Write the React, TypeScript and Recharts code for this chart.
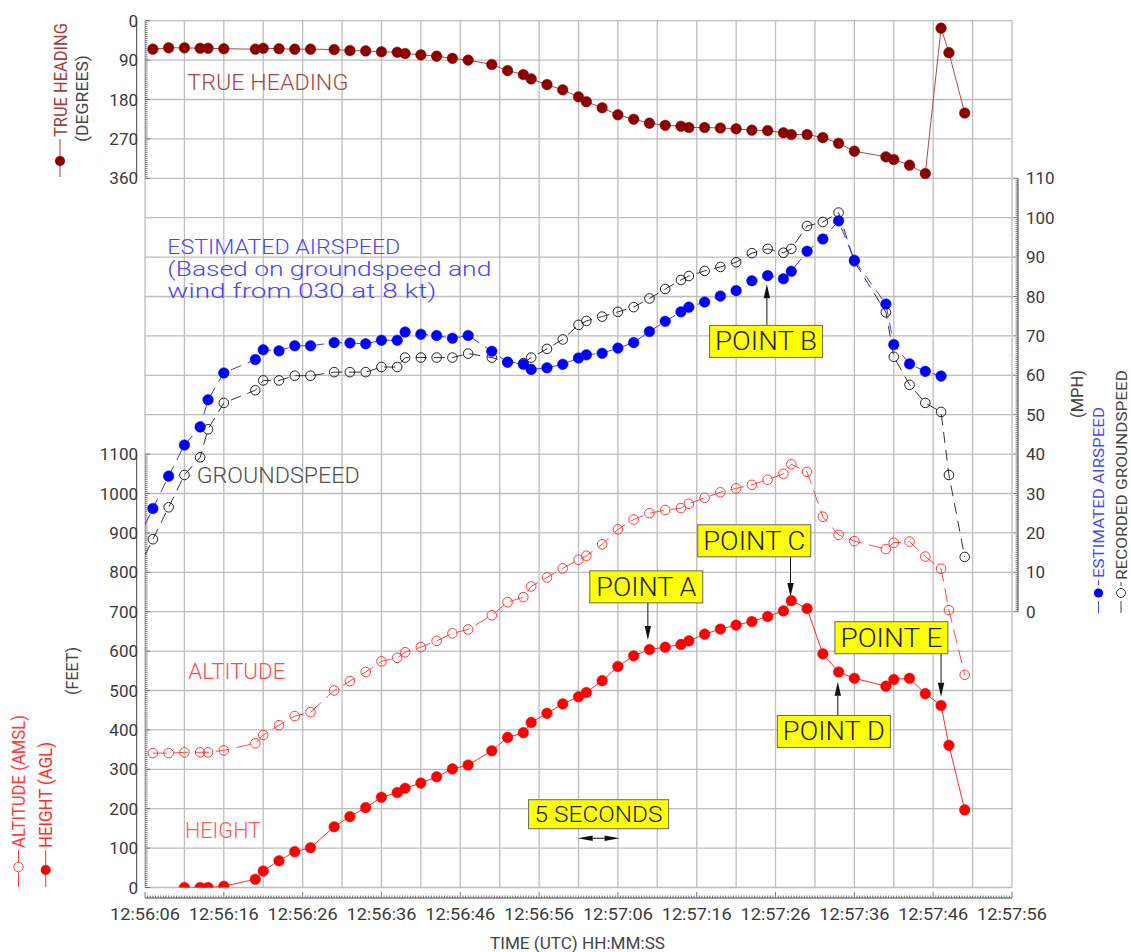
import React from "react";
import {
  ComposedChart,
  Line,
  XAxis,
  YAxis,
  CartesianGrid,
  ReferenceLine,
  ReferenceDot,
  Customized,
} from "recharts";

const FONT = "Roboto, 'Liberation Sans', Arial, sans-serif";

// ---------- axis labels ----------
const xTickLabels = [
  "12:56:06", "12:56:16", "12:56:26", "12:56:36", "12:56:46", "12:56:56",
  "12:57:06", "12:57:16", "12:57:26", "12:57:36", "12:57:46", "12:57:56",
];
const headingTickLabels = [0, 90, 180, 270, 360];
const feetTickLabels = [0, 100, 200, 300, 400, 500, 600, 700, 800, 900, 1000, 1100];
const mphTickLabels = [0, 10, 20, 30, 40, 50, 60, 70, 80, 90, 100, 110];

// ---------- series (time = seconds after 12:56:06) ----------
const headingTimes = [1, 3, 5, 7, 8, 10, 14, 15, 17, 19, 21, 24, 26, 28, 30, 32, 33, 35, 37, 39, 41, 44, 46, 48, 49, 51, 53, 55, 56, 58, 60, 62, 64, 66, 68, 69, 71, 73, 75, 77, 79, 81, 82, 84, 86, 88, 90, 94, 95, 97, 99, 101, 102, 104];
const headingDeg = [65, 62, 62, 63, 63, 64, 65, 63, 64, 65, 65, 66, 68, 69, 71, 72, 75, 78, 81, 86, 90, 100, 114, 123, 133, 146, 158, 174, 185, 199, 215, 225, 234, 239, 241, 244, 244, 245, 247, 250, 251, 256, 260, 260, 267, 280, 298, 311, 317, 330, 349, 17, 73, 211];

const airspeedTimes = [-1, 1, 3, 5, 7, 8, 10, 14, 15, 17, 19, 21, 24, 26, 28, 30, 32, 33, 35, 37, 39, 41, 44, 46, 48, 49, 51, 53, 55, 56, 58, 60, 62, 64, 66, 68, 69, 71, 73, 75, 77, 79, 81, 82, 84, 86, 88, 90, 94, 95, 97, 99, 101];
const airspeedMph = [18, 26.2, 34.4, 42.3, 46.9, 53.8, 60.6, 64, 66.5, 66.2, 67.5, 67.5, 68.3, 68.2, 68, 68.9, 68.9, 71, 70.4, 70.1, 69.4, 70.1, 66.1, 63.3, 62.8, 61.5, 61.9, 62.8, 64.4, 65.2, 65.6, 66.9, 68.3, 71.1, 73.7, 76.1, 77.3, 78.6, 80.1, 81.5, 84, 85.3, 84.5, 86.4, 91.5, 94.6, 99.2, 89.2, 78.1, 67.8, 62.9, 61, 59.8];

const groundTimes = [-1, 1, 3, 5, 7, 8, 10, 14, 15, 17, 19, 21, 24, 26, 28, 30, 32, 33, 35, 37, 39, 41, 44, 46, 48, 49, 51, 53, 55, 56, 58, 60, 62, 64, 66, 68, 69, 71, 73, 75, 77, 79, 81, 82, 84, 86, 88, 90, 94, 95, 97, 99, 101, 102, 104];
const groundMph = [10.3, 18.4, 26.5, 34.7, 39.2, 46.3, 53, 56.2, 58.7, 58.7, 59.9, 59.9, 60.8, 60.8, 60.8, 62.1, 62.1, 64.5, 64.5, 64.5, 64.5, 65.5, 64.5, 63.4, 63.1, 64.5, 66.7, 69.1, 72.8, 73.8, 74.9, 76.1, 77.3, 79.5, 81.9, 84.2, 85.2, 86.5, 87.5, 88.7, 91, 92.1, 91.1, 92.1, 97.9, 98.9, 101.3, 88.9, 76, 64.7, 57.6, 53, 50.7, 34.7, 13.9];

const altitudeTimes = [1, 3, 5, 7, 8, 10, 14, 15, 17, 19, 21, 24, 26, 28, 30, 32, 33, 35, 37, 39, 41, 44, 46, 48, 49, 51, 53, 55, 56, 58, 60, 62, 64, 66, 68, 69, 71, 73, 75, 77, 79, 81, 82, 84, 86, 88, 90, 94, 95, 97, 99, 101, 102, 104];
const altitudeFt = [341, 341, 343, 343, 343, 348, 366, 387, 412, 435, 445, 500, 524, 547, 574, 583, 597, 610, 626, 645, 655, 691, 724, 737, 764, 787, 810, 832, 842, 871, 909, 934, 950, 958, 963, 974, 989, 1003, 1013, 1022, 1035, 1050, 1074, 1055, 941, 895, 879, 859, 875, 878, 840, 809, 704, 540];

const heightTimes = [5, 7, 8, 10, 14, 15, 17, 19, 21, 24, 26, 28, 30, 32, 33, 35, 37, 39, 41, 44, 46, 48, 49, 51, 53, 55, 56, 58, 60, 62, 64, 66, 68, 69, 71, 73, 75, 77, 79, 81, 82, 84, 86, 88, 90, 94, 95, 97, 99, 101, 102, 104];
const heightFt = [0, 0, 0, 3, 21, 42, 68, 91, 101, 154, 180, 203, 229, 241, 252, 265, 281, 301, 311, 347, 381, 393, 419, 442, 466, 484, 495, 525, 561, 588, 604, 610, 617, 626, 643, 656, 666, 675, 688, 702, 728, 708, 593, 547, 531, 511, 528, 531, 492, 462, 361, 197];

const toRows = (ts: number[], vs: number[]) => ts.map((t, i) => ({ t, v: vs[i] }));
const headingData = toRows(headingTimes, headingDeg);
const airspeedData = toRows(airspeedTimes, airspeedMph);
const groundData = toRows(groundTimes, groundMph);
const altitudeData = toRows(altitudeTimes, altitudeFt);
const heightData = toRows(heightTimes, heightFt);

// ---------- scale set-up (three stacked panels share one plot) ----------
const T_MAX = 110;
const FT_MAX = 2200; // feet axis spans full plot height
const HD_MAX = 1980; // heading axis (reversed) spans full plot height
const MPH_DOMAIN: [number, number] = [-70, 150];
const headingToFt = (h: number) => FT_MAX - (h * FT_MAX) / HD_MAX;

// layout
const W = 1131;
const H = 952;
const M_TOP = 20.7;
const GAP_X = 10.5;
const XAXIS_H = 54;
const GAP_L = 8.3;
const YAXIS_L = 136.7;
const GAP_R = 6;
const YAXIS_R = 113;
const SEC_PX = (W - GAP_L - YAXIS_L - GAP_R - YAXIS_R) / T_MAX;

// ticks
const xTicks: number[] = [];
for (let i = 0; i <= T_MAX * 3; i++) xTicks.push(i / 3);
const leftTicks: number[] = [];
for (let v = 0; v <= feetTickLabels[feetTickLabels.length - 1]; v += 5) leftTicks.push(v);
for (let v = headingToFt(360); v <= FT_MAX + 0.001; v += 5) leftTicks.push(Math.round(v));
const rightTicks: number[] = [];
for (let i = 0; i <= mphTickLabels[mphTickLabels.length - 1] * 2; i++) rightTicks.push(i / 2);
const gridT: number[] = [];
for (let t = 0; t <= T_MAX; t += 5) gridT.push(t);
const gridFt: number[] = [];
for (let f = 0; f <= FT_MAX; f += 100) gridFt.push(f);

const TICK_COLOR = "#3a3a3a";

const BottomTick = (p: any) => {
  const { x, y, payload } = p;
  const k = Math.round(payload.value * 3);
  const major = k % 30 === 0;
  return (
    <g>
      <line x1={x} x2={x} y1={y} y2={y - (major ? 6 : 2.5)} stroke="#555" strokeWidth={0.8} />
      {major && (
        <text x={x} y={y + 22} textAnchor="middle" fontSize={17} fontFamily={FONT} fill={TICK_COLOR} textLength={70} lengthAdjust="spacingAndGlyphs">
          {xTickLabels[k / 30]}
        </text>
      )}
    </g>
  );
};

const LeftTick = (p: any) => {
  const { x, y, payload } = p;
  const v = payload.value;
  let label: string | null = null;
  if (v >= headingToFt(360) - 0.01) {
    const h = headingTickLabels.find((hh) => Math.abs(headingToFt(hh) - v) < 0.01);
    if (h !== undefined) label = String(h);
  } else if (feetTickLabels.includes(v)) {
    label = String(v);
  }
  const major = label !== null;
  return (
    <g>
      <line x1={x} x2={x + (major ? 5 : 2.5)} y1={y} y2={y} stroke="#555" strokeWidth={0.8} />
      {major && (
        <text x={x - 7} y={y} dy="0.36em" textAnchor="end" fontSize={17} fontFamily={FONT} fill={TICK_COLOR}>
          {label}
        </text>
      )}
    </g>
  );
};

const RightTick = (p: any) => {
  const { x, y, payload } = p;
  const v = payload.value;
  const major = mphTickLabels.includes(v);
  return (
    <g>
      <line x1={x} x2={x - (major ? 5 : 2.5)} y1={y} y2={y} stroke="#555" strokeWidth={0.8} />
      {major && (
        <text x={x + 8} y={y} dy="0.36em" textAnchor="start" fontSize={17} fontFamily={FONT} fill={TICK_COLOR}>
          {v}
        </text>
      )}
    </g>
  );
};

// ---------- dots ----------
const filledDot = (color: string, r: number) => (p: any) => {
  if (p.payload && p.payload.t < 0) return <g key={`d${p.index}`} />;
  return <circle key={`d${p.index}`} cx={p.cx} cy={p.cy} r={r} fill={color} stroke={color} strokeWidth={0.5} />;
};
const openDot = (color: string, r: number) => (p: any) => {
  if (p.payload && p.payload.t < 0) return <g key={`d${p.index}`} />;
  return <circle key={`d${p.index}`} cx={p.cx} cy={p.cy} r={r} fill="none" stroke={color} strokeWidth={1} />;
};

// ---------- annotations ----------
type TextNote = { text: string; t: number; v: number; axis: string; color: string; size: number; len: number };
const plotTexts: TextNote[] = [
  { text: "TRUE HEADING", t: 5.37, v: 158, axis: "hd", color: "#b04444", size: 22, len: 161 },
  { text: "ESTIMATED AIRSPEED", t: 2.83, v: 90.8, axis: "mph", color: "#4646ff", size: 19.5, len: 233 },
  { text: "(Based on groundspeed and", t: 2.83, v: 85.1, axis: "mph", color: "#4646ff", size: 19.5, len: 324 },
  { text: "wind from 030 at 8 kt)", t: 2.83, v: 79.6, axis: "mph", color: "#4646ff", size: 19.5, len: 269 },
  { text: "GROUNDSPEED", t: 6.56, v: 32.6, axis: "mph", color: "#505050", size: 22, len: 163 },
  { text: "ALTITUDE", t: 5.5, v: 528, axis: "ft", color: "#ff4c4c", size: 22, len: 97 },
  { text: "HEIGHT", t: 5.08, v: 126, axis: "ft", color: "#ff5a5a", size: 22, len: 76 },
];

type BoxNote = { text: string; t: number; v: number; axis: string; w: number; h: number; size: number; len: number };
const boxes: BoxNote[] = [
  { text: "POINT A", t: 63.6, v: 763, axis: "ft", w: 113, h: 32, size: 25, len: 100 },
  { text: "POINT B", t: 78.8, v: 68.6, axis: "mph", w: 113, h: 32, size: 25, len: 102 },
  { text: "POINT C", t: 77.3, v: 880, axis: "ft", w: 113, h: 32, size: 25, len: 102 },
  { text: "POINT D", t: 87.4, v: 396, axis: "ft", w: 113, h: 32, size: 25, len: 102 },
  { text: "POINT E", t: 94.7, v: 634, axis: "ft", w: 113, h: 32, size: 25, len: 102 },
  { text: "5 SECONDS", t: 57.55, v: 186, axis: "ft", w: 140, h: 29, size: 22, len: 128 },
];

type ArrowNote = { t1: number; v1: number; t2: number; v2: number; axis: string; both?: boolean };
const arrows: ArrowNote[] = [
  { t1: 63.8, v1: 723, t2: 63.8, v2: 628, axis: "ft" },
  { t1: 78.9, v1: 72.7, t2: 78.9, v2: 83.1, axis: "mph" },
  { t1: 81.9, v1: 840, t2: 81.9, v2: 737, axis: "ft" },
  { t1: 87.9, v1: 436, t2: 87.9, v2: 522, axis: "ft" },
  { t1: 101.0, v1: 594, t2: 101.0, v2: 484, axis: "ft" },
  { t1: 54.9, v1: 125, t2: 60.2, v2: 125, axis: "ft", both: true },
];

const head = (x: number, y: number, ux: number, uy: number, hl: number, hw: number) => {
  const bx = x - ux * hl;
  const by = y - uy * hl;
  return `${x},${y} ${bx - uy * hw},${by + ux * hw} ${bx + uy * hw},${by - ux * hw}`;
};

const arrowShape = (both: boolean) => (p: any) => {
  const { x1, y1, x2, y2 } = p;
  const dx = x2 - x1;
  const dy = y2 - y1;
  const L = Math.hypot(dx, dy) || 1;
  const ux = dx / L;
  const uy = dy / L;
  const hl = both ? 15 : 14;
  const hw = both ? 2.8 : 3.2;
  const sx = both ? x1 + ux * hl : x1;
  const sy = both ? y1 + uy * hl : y1;
  return (
    <g>
      <line x1={sx} y1={sy} x2={x2 - ux * hl} y2={y2 - uy * hl} stroke="#111" strokeWidth={1} />
      <polygon points={head(x2, y2, ux, uy, hl, hw)} fill="#111" />
      {both && <polygon points={head(x1, y1, -ux, -uy, hl, hw)} fill="#111" />}
    </g>
  );
};

// ---------- outer legends & titles ----------
const rotText = (x: number, y: number, text: string, color: string, size: number, len: number, anchor: string = "start") => (
  <text
    transform={`translate(${x},${y}) rotate(-90)`}
    textAnchor={anchor}
    fontSize={size}
    fontFamily={FONT}
    fill={color}
    textLength={len}
    lengthAdjust="spacingAndGlyphs"
  >
    {text}
  </text>
);

const OuterTexts = () => (
  <g>
    {/* heading legend */}
    {rotText(67, 137, "TRUE HEADING", "#a83c3c", 18, 114)}
    <line x1={60} x2={60} y1={139} y2={177} stroke="#a83c3c" strokeWidth={1} />
    <circle cx={60} cy={161} r={5} fill="#8b0000" />
    {rotText(88, 98.5, "(DEGREES)", "#444", 17, 87, "middle")}
    {/* feet */}
    {rotText(78, 671, "(FEET)", "#444", 17, 48, "middle")}
    {/* altitude legend */}
    {rotText(25, 848, "ALTITUDE (AMSL)", "#ff4040", 18, 133)}
    <line x1={18.5} x2={18.5} y1={850} y2={862} stroke="#ff4040" strokeWidth={1} />
    <circle cx={18.5} cy={867} r={4.7} fill="none" stroke="#ff4040" strokeWidth={1} />
    <line x1={18.5} x2={18.5} y1={872} y2={887} stroke="#ff4040" strokeWidth={1} />
    {/* height legend */}
    {rotText(52, 848, "HEIGHT (AGL)", "#ff2a2a", 18, 106)}
    <line x1={45.7} x2={45.7} y1={850} y2={887} stroke="#ff2a2a" strokeWidth={1} />
    <circle cx={45.7} cy={870} r={5} fill="#ff0000" />
    {/* mph */}
    {rotText(1083, 394, "(MPH)", "#444", 17, 48, "middle")}
    {rotText(1104, 578, "ESTIMATED AIRSPEED", "#4646ff", 15, 171)}
    <line x1={1098.5} x2={1098.5} y1={580} y2={585} stroke="#4646ff" strokeWidth={1} />
    <circle cx={1098.5} cy={593} r={4.6} fill="#0000ff" />
    <line x1={1098.5} x2={1098.5} y1={601} y2={613} stroke="#4646ff" strokeWidth={1} />
    {rotText(1127, 580, "RECORDED GROUNDSPEED", "#444", 15, 210)}
    <line x1={1121} x2={1121} y1={582} y2={586} stroke="#444" strokeWidth={1} />
    <circle cx={1121} cy={593} r={4.5} fill="none" stroke="#333" strokeWidth={1} />
    <line x1={1121} x2={1121} y1={601} y2={613} stroke="#444" strokeWidth={1} />
    {/* time title */}
    <text x={490} y={949} fontSize={16} fontFamily={FONT} fill="#444" textLength={175} lengthAdjust="spacingAndGlyphs">
      TIME (UTC) HH:MM:SS
    </text>
  </g>
);

export default function App() {
  const axL = -GAP_L / SEC_PX;
  const axR = T_MAX + GAP_R / SEC_PX;
  return (
    <div style={{ position: "absolute", left: 0, top: 0, width: W, height: H, background: "#fff" }}>
      <ComposedChart width={W} height={H} margin={{ top: M_TOP, right: 0, bottom: 0, left: 0 }}>
        <XAxis xAxisId="gap" type="number" dataKey="t" domain={[0, T_MAX]} height={GAP_X} tick={false} axisLine={false} tickLine={false} allowDataOverflow />
        <XAxis
          xAxisId="t"
          type="number"
          dataKey="t"
          domain={[0, T_MAX]}
          height={XAXIS_H}
          ticks={xTicks}
          interval={0}
          tick={BottomTick}
          tickLine={false}
          tickSize={0}
          tickMargin={0}
          axisLine={{ stroke: "#444", strokeWidth: 1 }}
          allowDataOverflow
        />
        <YAxis yAxisId="gapL" orientation="left" width={GAP_L} domain={[0, FT_MAX]} tick={false} axisLine={false} tickLine={false} />
        <YAxis
          yAxisId="ft"
          orientation="left"
          width={YAXIS_L}
          type="number"
          domain={[0, FT_MAX]}
          ticks={leftTicks}
          interval={0}
          tick={LeftTick}
          tickLine={false}
          tickSize={0}
          tickMargin={0}
          axisLine={false}
          allowDataOverflow
        />
        <YAxis yAxisId="hd" hide reversed type="number" domain={[0, HD_MAX]} allowDataOverflow />
        <YAxis yAxisId="gapR" orientation="right" width={GAP_R} domain={MPH_DOMAIN} tick={false} axisLine={false} tickLine={false} />
        <YAxis
          yAxisId="mph"
          orientation="right"
          width={YAXIS_R}
          type="number"
          domain={MPH_DOMAIN}
          ticks={rightTicks}
          interval={0}
          tick={RightTick}
          tickLine={false}
          tickSize={0}
          tickMargin={0}
          axisLine={false}
          allowDataOverflow
        />

        <CartesianGrid xAxisId="t" yAxisId="ft" horizontalValues={gridFt} verticalValues={gridT} stroke="#bdbdbd" strokeWidth={1.3} />

        {/* axis lines */}
        <ReferenceLine xAxisId="t" yAxisId="ft" ifOverflow="visible" segment={[{ x: axL, y: 0 }, { x: axL, y: feetTickLabels[feetTickLabels.length - 1] }]} stroke="#444" strokeWidth={1} />
        <ReferenceLine xAxisId="t" yAxisId="ft" ifOverflow="visible" segment={[{ x: axL, y: headingToFt(360) }, { x: axL, y: FT_MAX }]} stroke="#444" strokeWidth={1} />
        <ReferenceLine xAxisId="t" yAxisId="mph" ifOverflow="visible" segment={[{ x: axR, y: 0 }, { x: axR, y: mphTickLabels[mphTickLabels.length - 1] }]} stroke="#444" strokeWidth={1} />

        <Line xAxisId="t" yAxisId="hd" data={headingData} dataKey="v" type="linear" stroke="#b04848" strokeWidth={1} dot={filledDot("#8b0000", 5.3)} isAnimationActive={false} />
        <Line xAxisId="t" yAxisId="mph" data={groundData} dataKey="v" type="linear" stroke="#333" strokeWidth={1} strokeDasharray="11 7" dot={openDot("#222", 4.8)} isAnimationActive={false} />
        <Line xAxisId="t" yAxisId="mph" data={airspeedData} dataKey="v" type="linear" stroke="#3a3aff" strokeWidth={1} strokeDasharray="11 7" dot={filledDot("#0000ff", 5.3)} isAnimationActive={false} />
        <Line xAxisId="t" yAxisId="ft" data={altitudeData} dataKey="v" type="linear" stroke="#ff4a4a" strokeWidth={1} strokeDasharray="14 7" dot={openDot("#ff3b3b", 4.8)} isAnimationActive={false} />
        <Line xAxisId="t" yAxisId="ft" data={heightData} dataKey="v" type="linear" stroke="#ff2a2a" strokeWidth={1} dot={filledDot("#ff0000", 5.3)} isAnimationActive={false} />

        {plotTexts.map((n, i) => (
          <ReferenceDot
            key={`txt${i}`}
            xAxisId="t"
            yAxisId={n.axis}
            x={n.t}
            y={n.v}
            r={0}
            shape={(p: any) => (
              <text x={p.cx} y={p.cy} fill={n.color} fontSize={n.size} fontFamily={FONT} fontWeight={300} textLength={n.len} lengthAdjust="spacingAndGlyphs">
                {n.text}
              </text>
            )}
          />
        ))}

        {arrows.map((a, i) => (
          <ReferenceLine
            key={`arr${i}`}
            xAxisId="t"
            yAxisId={a.axis}
            segment={[{ x: a.t1, y: a.v1 }, { x: a.t2, y: a.v2 }]}
            ifOverflow="visible"
            shape={arrowShape(!!a.both)}
          />
        ))}

        {boxes.map((b, i) => (
          <ReferenceDot
            key={`box${i}`}
            xAxisId="t"
            yAxisId={b.axis}
            x={b.t}
            y={b.v}
            r={0}
            shape={(p: any) => (
              <g>
                <rect x={p.cx - b.w / 2} y={p.cy - b.h / 2} width={b.w} height={b.h} fill="#ffff00" stroke="#666" strokeWidth={1} />
                <text x={p.cx} y={p.cy} dy="0.36em" textAnchor="middle" fill="#222" fontSize={b.size} fontFamily={FONT} fontWeight={300} textLength={b.len} lengthAdjust="spacingAndGlyphs">
                  {b.text}
                </text>
              </g>
            )}
          />
        ))}

        <Customized component={OuterTexts} />
      </ComposedChart>
    </div>
  );
}
